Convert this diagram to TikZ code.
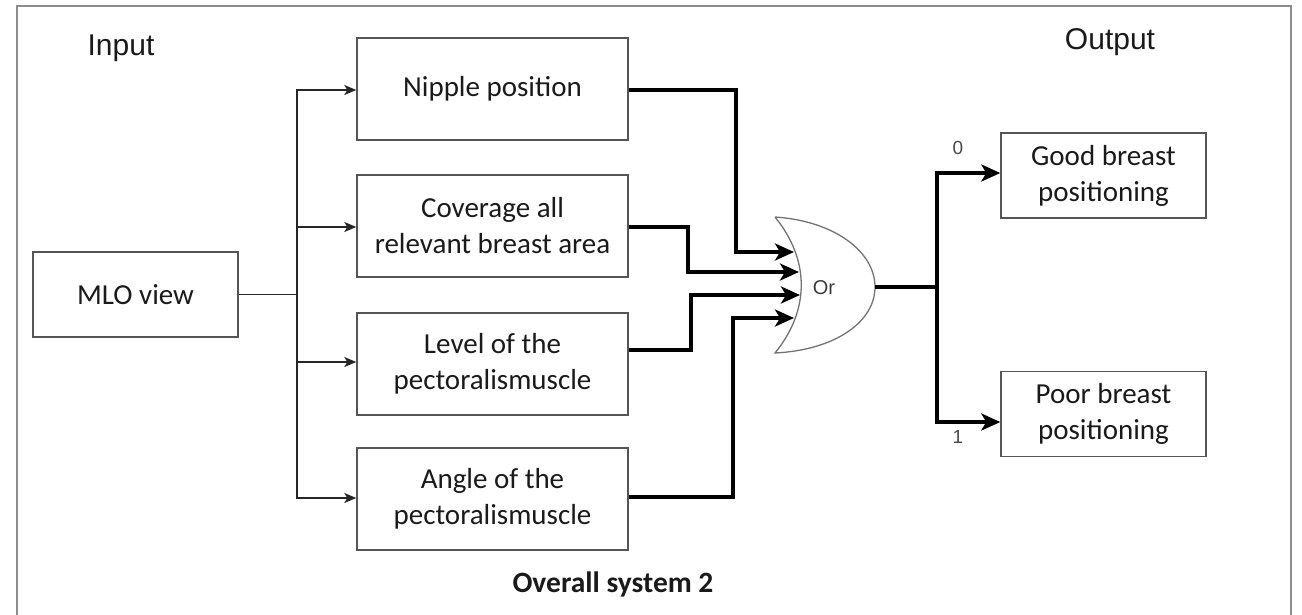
\documentclass[tikz,border=0pt]{standalone}
\usepackage{fontspec}
\setmainfont{Carlito}
\newfontfamily\arialf{Liberation Sans}
\usetikzlibrary{arrows.meta}
\definecolor{txt}{HTML}{1A1A1A}
\definecolor{boxline}{HTML}{555555}
\definecolor{frameline}{HTML}{8C8C8C}
\begin{document}
\begin{tikzpicture}[x=1pt,y=-1pt,
  box/.style={draw=boxline, line width=1.4pt, minimum width=271pt, minimum height=102pt,
    align=center, inner sep=0pt, text=txt, font=\fontsize{29}{36}\selectfont},
  smallbox/.style={box, minimum width=205pt, minimum height=85pt},
  thinline/.style={draw=black!85, line width=1.4pt},
  thinarrow/.style={thinline, -{Stealth[length=12pt,width=10pt,inset=3pt]}},
  thickline/.style={draw=black, line width=4.2pt},
  thickarrow/.style={thickline, -{Stealth[length=19pt,width=17pt,inset=5pt]}},
  lbl/.style={text=txt, inner sep=0pt, font=\arialf\fontsize{30}{36}\selectfont},
  pinlbl/.style={text=txt!80, inner sep=0pt, font=\arialf\fontsize{19}{22}\selectfont},
]
\useasboundingbox (0,0) rectangle (1302,614);
% frame
\draw[frameline, line width=2.5pt] (17,616) -- (17,6) -- (1291,6) -- (1291,616);

% labels
\node[lbl] (inlbl) at (121,48) {Input};
\node[lbl] (outlbl) at (1110,42) {Output};
\node[text=txt, inner sep=0pt, font=\bfseries\fontsize{29.5}{34}\selectfont] (title) at (613,584) {Overall system 2};

% boxes
\node[smallbox] (mlo) at (135.5,294.5) {MLO view};
\node[box] (nip) at (492.5,89) {Nipple position};
\node[box] (cov) at (492.5,226) {Coverage all\\relevant breast area};
\node[box] (lev) at (492.5,364) {Level of the\\pectoralismuscle};
\node[box] (ang) at (492.5,499) {Angle of the\\pectoralismuscle};
\node[smallbox] (good) at (1103.5,175.5) {Good breast\\positioning};
\node[smallbox] (poor) at (1103.5,414) {Poor breast\\positioning};

% OR gate
\draw[draw=black!55, line width=1.3pt, fill=white]
  (775,217) .. controls (835,221) and (875,252) .. (875,287)
  .. controls (875,322) and (835,350) .. (775,353)
  .. controls (810,310) and (810,260) .. (775,217);
\node[text=txt!85, inner sep=0pt, font=\arialf\fontsize{20}{24}\selectfont] (orlbl) at (824,288) {Or};
\coordinate (in1) at (794,252);
\coordinate (in2) at (799,272);
\coordinate (in3) at (800,295);
\coordinate (in4) at (794,318);
\coordinate (gout) at (875,287);
\coordinate (split) at (937,287);

% input fan-out
\coordinate (bus) at (297,294.5);
\draw[thinline] (mlo.east) -- (bus);
\draw[thinarrow] (bus) |- ([yshift=-1pt]nip.west);
\draw[thinarrow] (bus) |- ([yshift=-1pt]cov.west);
\draw[thinarrow] (bus) |- ([yshift=2pt]lev.west);
\draw[thinarrow] (bus) |- ([yshift=1pt]ang.west);

% to gate
\draw[thickarrow] ([yshift=-1pt]nip.east) -- ++(107,0) |- (in1);
\draw[thickarrow] ([yshift=-1pt]cov.east) -- ++(59,0) |- (in2);
\draw[thickarrow] ([yshift=14pt]lev.east) -- ++(62,0) |- (in3);
\draw[thickarrow] ([yshift=2pt]ang.east) -- ++(104,0) |- (in4);

% outputs
\draw[thickline] (gout) -- (split);
\draw[thickarrow] (split) |- ([yshift=2.5pt]good.west);
\draw[thickarrow] (split) |- ([yshift=-8pt]poor.west);
\node[pinlbl] (zero) at (958,148) {0};
\node[pinlbl] (one) at (958,437) {1};
\end{tikzpicture}
\end{document}
